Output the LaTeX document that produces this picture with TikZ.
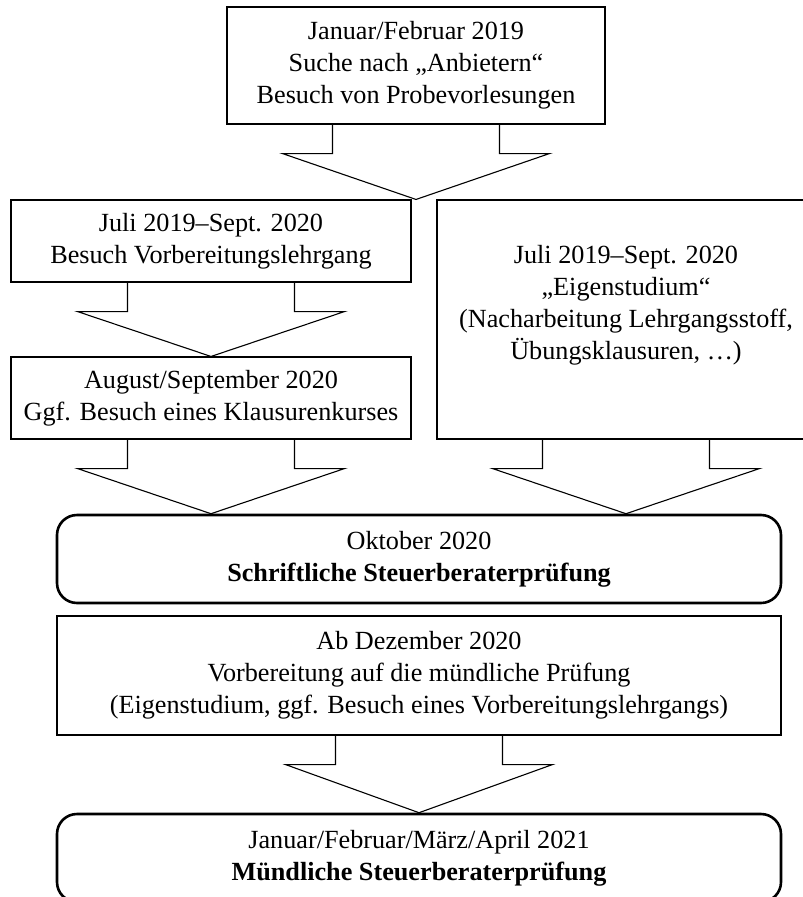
\documentclass[tikz,border=0pt]{standalone}
\usepackage{fontspec}
\setmainfont{Liberation Serif}
\usetikzlibrary{calc}

% block arrow from the bottom of one box down to the top of the next
\newcommand{\blockpfeil}[2]{%
  \draw[pfeil] ($(#1.south)+(-83.5,0)$) -- ++(0,29) -- ++(-50,0)
    -- (#1.south |- #2.north) -- ($(#1.south)+(133.5,29)$) -- ++(-50,0) -- ++(0,-29);}

\begin{document}
\begin{tikzpicture}[x=1pt, y=-1pt,
    txt/.style={align=center, inner sep=0pt, font=\fontsize{26.2}{32}\selectfont},
    box/.style={txt, draw, rectangle, line width=1.1pt},
    exam/.style={txt, draw, rectangle, rounded corners=20pt, line width=2.6pt},
    pfeil/.style={line width=1.1pt, line join=miter}]
            \useasboundingbox (0,0) rectangle (803,897);
            \clip (0,0) rectangle (803,897);
            % Ablauf bis zur Steuerberaterpruefung
            \node[box, minimum width=378, minimum height=117] (anbieter) at (416,65.5) {Januar/Februar 2019\\Suche nach „Anbietern“\\Besuch von Probevorlesungen};
            \node[box, minimum width=400, minimum height=82] (lehrgang) at (211,241) {Juli 2019–Sept. 2020\\Besuch Vorbereitungslehrgang};
            \node[box, minimum width=378, minimum height=239] (eigen) at (626,319.5) {};
            \node[txt] (eigentext) at ($(eigen.center)+(0,-14)$) {Juli 2019–Sept. 2020\\„Eigenstudium“\\(Nacharbeitung Lehrgangsstoff,\\Übungsklausuren, \dots)};
            \node[box, minimum width=400, minimum height=82] (klausur) at (211,398) {August/September 2020\\Ggf. Besuch eines Klausurenkurses};
            \node[exam, minimum width=724, minimum height=88] (schriftlich) at (419,559) {Oktober 2020\\\textbf{Schriftliche Steuerberaterprüfung}};
            \node[box, minimum width=724, minimum height=119] (muendlvorb) at (419,675.5) {Ab Dezember 2020\\Vorbereitung auf die mündliche Prüfung\\(Eigenstudium, ggf. Besuch eines Vorbereitungslehrgangs)};
            \node[exam, minimum width=724, minimum height=88] (muendlich) at (419,858) {Januar/Februar/März/April 2021\\\textbf{Mündliche Steuerberaterprüfung}};

            \blockpfeil{anbieter}{lehrgang}
            \blockpfeil{lehrgang}{klausur}
            \blockpfeil{klausur}{schriftlich}
            \blockpfeil{eigen}{schriftlich}
            \blockpfeil{muendlvorb}{muendlich}
        \end{tikzpicture}
\end{document}
